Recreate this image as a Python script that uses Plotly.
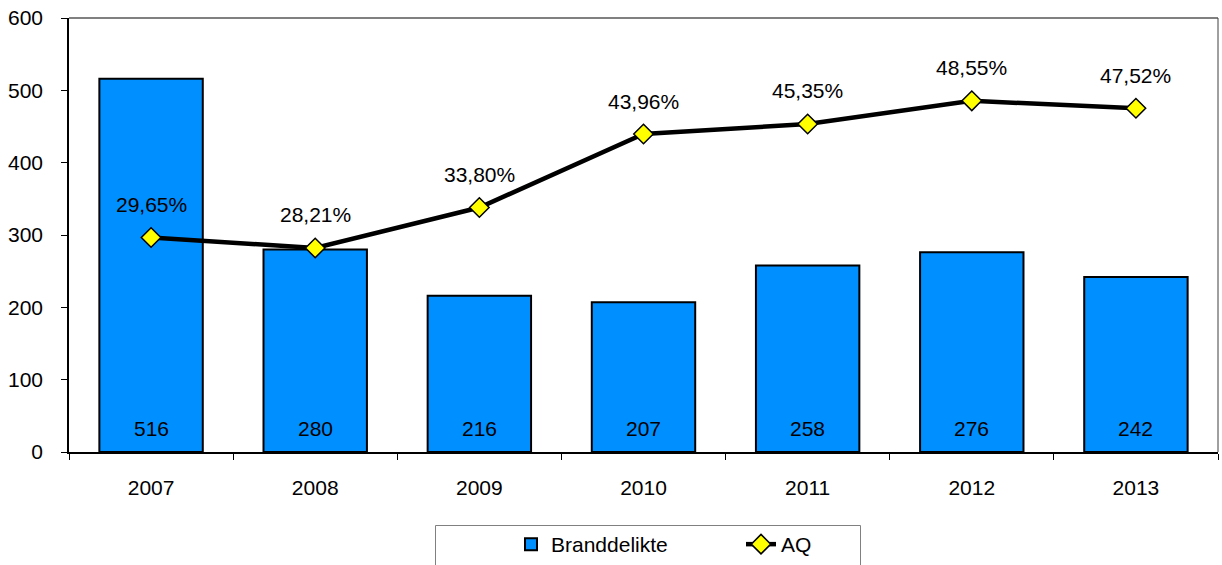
import plotly.graph_objects as go

years = ["2007", "2008", "2009", "2010", "2011", "2012", "2013"]
branddelikte = [516, 280, 216, 207, 258, 276, 242]
aq = [29.65, 28.21, 33.80, 43.96, 45.35, 48.55, 47.52]
y_ticks = [0, 100, 200, 300, 400, 500, 600]

FONT = "Liberation Sans, Arial, sans-serif"
FS = 21
BAR_BLUE = "#008FFF"

W, H = 1222, 565
ML, MR, MT, MB = 69, 4, 18, 113
PW, PH = W - ML - MR, H - MT - MB


def px_to_paper_x(px):
    return (px - ML) / PW


def px_to_paper_y(py):
    return (H - MB - py) / PH


def pct(v):
    return f"{v:.2f}".replace(".", ",") + "%"


fig = go.Figure()

fig.add_trace(go.Bar(
    x=years, y=branddelikte, name="Branddelikte",
    marker=dict(color=BAR_BLUE, line=dict(color="black", width=2)),
    yaxis="y",
))

fig.add_trace(go.Scatter(
    x=years, y=aq, name="AQ", mode="lines+markers",
    line=dict(color="black", width=4.5),
    marker=dict(symbol="diamond", size=15, color="#FFFF00",
                line=dict(color="black", width=1.5)),
    yaxis="y2",
))

annotations = []
# counts written near the foot of each bar (category index positions)
for i, v in enumerate(branddelikte):
    annotations.append(dict(
        x=i, y=0, xref="x", yref="y", text=str(v), showarrow=False,
        yshift=24, yanchor="middle", font=dict(family=FONT, size=FS, color="black"),
    ))
# percentage labels above the AQ markers
for i, v in enumerate(aq):
    annotations.append(dict(
        x=i, y=v, xref="x", yref="y2", text=pct(v), showarrow=False,
        yshift=33, yanchor="middle", font=dict(family=FONT, size=FS, color="black"),
    ))

shapes = [
    # frame: top edge and right edge of the plotting area
    dict(type="line", xref="paper", yref="paper", x0=0, x1=1, y0=1, y1=1,
         line=dict(color="#808080", width=2)),
    dict(type="line", xref="paper", yref="paper", x0=1, x1=1, y0=0, y1=1,
         line=dict(color="#404040", width=1)),
    # legend box
    dict(type="rect", xref="paper", yref="paper",
         x0=px_to_paper_x(435.5), x1=px_to_paper_x(860.5),
         y0=px_to_paper_y(525.5), y1=px_to_paper_y(600),
         line=dict(color="#808080", width=1), fillcolor="rgba(0,0,0,0)"),
]

fig.update_layout(
    width=W, height=H,
    margin=dict(l=ML, r=MR, t=MT, b=MB),
    paper_bgcolor="white", plot_bgcolor="white",
    font=dict(family=FONT, size=FS, color="black"),
    bargap=0.37,
    showlegend=True,
    legend=dict(
        orientation="h", xref="container", yref="container",
        x=511 / W, xanchor="left", y=(H - 524) / H, yanchor="top",
        borderwidth=0, bgcolor="rgba(0,0,0,0)",
        font=dict(family=FONT, size=FS, color="black"),
        entrywidth=185, entrywidthmode="pixels",
    ),
    xaxis=dict(
        type="category", categoryorder="array", categoryarray=years,
        range=[-0.5, len(years) - 0.5], tickangle=0,
        showgrid=False, showline=True, linecolor="black", linewidth=1.5,
        ticks="outside", ticklen=6, tickcolor="black", tickson="boundaries",
        ticklabelstandoff=16, tickfont=dict(family=FONT, size=FS),
    ),
    yaxis=dict(
        range=[0, 600], tickvals=y_ticks, showgrid=False, zeroline=False,
        showline=True, linecolor="black", linewidth=1.5,
        ticks="outside", ticklen=6, tickcolor="black",
        ticklabelstandoff=14, tickfont=dict(family=FONT, size=FS),
    ),
    yaxis2=dict(range=[0, 60], overlaying="y", visible=False),
    annotations=annotations,
    shapes=shapes,
)

fig.write_html("out.html")
